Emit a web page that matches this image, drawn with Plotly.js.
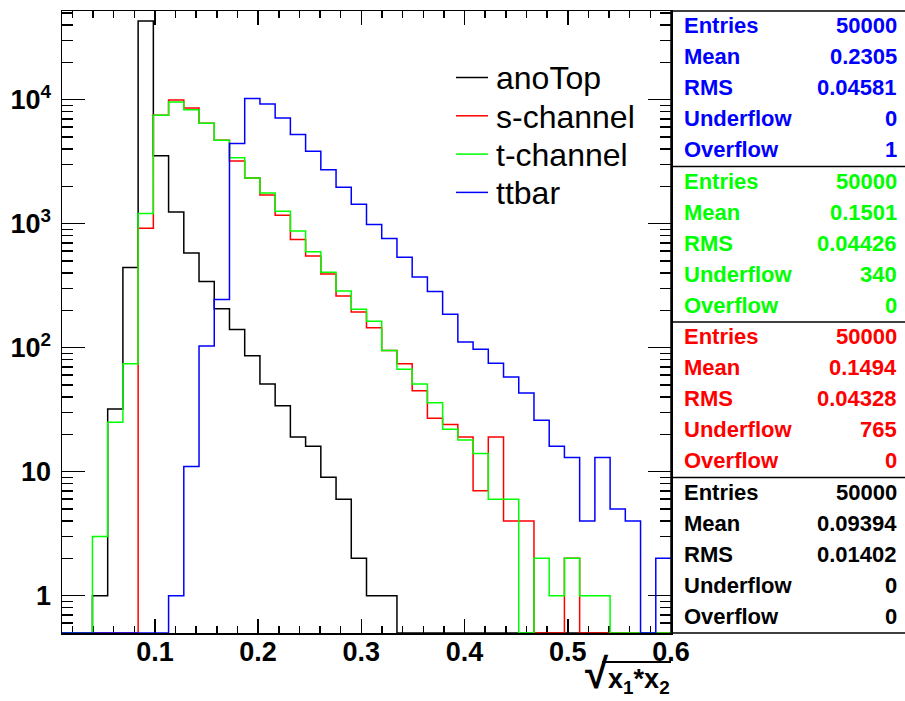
<!DOCTYPE html>
<html>
<head>
<meta charset="utf-8">
<script src="https://cdn.plot.ly/plotly-3.0.1.min.js"></script>
<style>
  html, body { margin: 0; padding: 0; background: #ffffff; }
  #chart { width: 905px; height: 701px; }
</style>
</head>
<body>
<div id="chart"></div>
<script>
// ---- histogram definition ----
const xMin = 0.01;
const xMax = 0.6;
const nBins = 40;

// ---- bin contents ----
const anoTop   = [0,0,1,32,442,43050,3532,1241,580,342,206,140,86,51,34,19,16,9,6,2,1,1,0,0,0,0,0,0,0,0,0,0,0,0,0,0,0,0,0,0];
const sChannel = [0,0,0,0,0,916,7470,9930,8550,6440,4700,3200,2333,1702,1167,743,548,392,261,194,145,95,74,45,27,24,19,7,19,4,4,0,0,2,0,0,0,0,0,0];
const tChannel = [0,0,3,25,74,1205,7470,9570,8300,6440,4700,3405,2333,1766,1257,872,594,405,286,204,163,95,67,51,36,22,18,14,6,6,0,2,1,2,1,1,0,0,0,0];
const ttbar    = [0,0,0,0,0,0,0,1,11,103,244,4420,10190,9220,7110,5220,3830,2725,1963,1432,982,757,535,371,284,186,111,97,75,58,43,26,16,13,4,13,5,4,0,2];

const seriesNames  = ['anoTop', 's-channel', 't-channel', 'ttbar'];
const seriesColors = ['#000000', '#ff0000', '#00ff00', '#0000ff'];

// ---- stats boxes (top to bottom) ----
const statsLabels  = ['Entries', 'Mean', 'RMS', 'Underflow', 'Overflow'];
const statsTtbar   = ['50000', '0.2305', '0.04581', '0', '1'];
const statsTchan   = ['50000', '0.1501', '0.04426', '340', '0'];
const statsSchan   = ['50000', '0.1494', '0.04328', '765', '0'];
const statsAnoTop  = ['50000', '0.09394', '0.01402', '0', '0'];

// ---- axis ticks ----
const yTickVals = [1, 10, 100, 1000, 10000];
const yTickText = ['1', '10', '10<sup>2</sup>', '10<sup>3</sup>', '10<sup>4</sup>'];
const xTickVals = [0.1, 0.2, 0.3, 0.4, 0.5, 0.6];
const xTickText = ['0.1', '0.2', '0.3', '0.4', '0.5', '0.6'];
const xTitle = '<span style="font-size:42px">√</span>x<sub>1</sub>*x<sub>2</sub>';

// ---- geometry ----
const W = 905, H = 701;
const mL = 62, mR = 234, mT = 11, mB = 68;
const pw = W - mL - mR, ph = H - mT - mB;
const yMinVal = 0.5;
const yTopLog = 4.7145;
const FONT = 'Liberation Sans, Arial, Helvetica, sans-serif';

const binW = (xMax - xMin) / nBins;
const edges = [];
for (let i = 0; i <= nBins; i++) edges.push(xMin + i * binW);

function stepTrace(vals, name, color) {
  const y = vals.map(v => (v > 0 ? v : yMinVal));
  y.push(y[y.length - 1]);
  return {
    type: 'scatter', mode: 'lines', x: edges, y: y, name: name,
    line: { shape: 'hv', color: color, width: 1.5 },
    hoverinfo: 'skip', showlegend: false
  };
}

const allSeries = [anoTop, sChannel, tChannel, ttbar];
const traces = allSeries.map((s, i) => stepTrace(s, seriesNames[i], seriesColors[i]));

const px2x = p => (p - mL) / pw;
const py2y = p => 1 - (p - mT) / ph;
const annotations = [];
const shapes = [];

// legend (line sample + name)
seriesNames.forEach((nm, i) => {
  const yc = 77.5 + 38.3 * i;
  shapes.push({ type: 'line', xref: 'paper', yref: 'paper', x0: px2x(456), x1: px2x(488), y0: py2y(yc), y1: py2y(yc),
    line: { color: seriesColors[i], width: 1.5 } });
  annotations.push({ xref: 'paper', yref: 'paper', x: px2x(494), y: py2y(yc + 1), xanchor: 'left', yanchor: 'middle',
    text: nm, showarrow: false, font: { family: FONT, size: 32, color: '#000' } });
});

// stats annotations & box shapes
const statsSets = [statsTtbar, statsTchan, statsSchan, statsAnoTop];
const statsColors = ['#0000ff', '#00ff00', '#ff0000', '#000000'];
const boxL = 1, boxR = px2x(W + 2);
statsSets.forEach((vals, k) => {
  const secTop = k * ph / 4;
  statsLabels.forEach((lab, r) => {
    const yc = mT + secTop + (r + 0.5) * (ph / 4) / 5 - 1;
    annotations.push({ xref: 'paper', yref: 'paper', x: px2x(682), y: py2y(yc), xanchor: 'left', yanchor: 'middle',
      text: lab, showarrow: false, font: { family: FONT, size: 22, weight: 'bold', color: statsColors[k] } });
    annotations.push({ xref: 'paper', yref: 'paper', x: px2x(899), y: py2y(yc), xanchor: 'right', yanchor: 'middle',
      text: vals[r], showarrow: false, font: { family: FONT, size: 22, weight: 'bold', color: statsColors[k] } });
  });
  if (k > 0) shapes.push({ type: 'line', xref: 'paper', yref: 'paper', x0: boxL, x1: boxR, y0: 1 - k / 4, y1: 1 - k / 4, line: { color: '#000', width: 1.5 } });
});
shapes.push({ type: 'rect', xref: 'paper', yref: 'paper', x0: boxL, x1: boxR, y0: 0, y1: 1, line: { color: '#000', width: 1.5 } });

// x-axis title (right aligned under axis end)
annotations.push({ xref: 'paper', yref: 'paper', x: px2x(672), y: py2y(648), xanchor: 'right', yanchor: 'top',
  text: xTitle, showarrow: false, font: { family: FONT, size: 27, weight: 'bold', color: '#000' } });
// overline of the radical
shapes.push({ type: 'line', xref: 'paper', yref: 'paper', x0: px2x(602), x1: 1, y0: py2y(662), y1: py2y(662), line: { color: '#000', width: 2 } });

const layout = {
  width: W, height: H,
  margin: { l: mL, r: mR, t: mT, b: mB, autoexpand: false },
  paper_bgcolor: '#ffffff', plot_bgcolor: '#ffffff',
  showlegend: false,
  xaxis: {
    range: [xMin, xMax], showgrid: false, zeroline: false,
    showline: true, linecolor: '#000', linewidth: 1.5, mirror: 'ticks',
    ticks: 'inside', ticklen: 14, tickwidth: 1.5, tickcolor: '#000',
    tickvals: xTickVals, ticktext: xTickText,
    minor: { dtick: 0.02, tick0: 0, ticks: 'inside', ticklen: 7, tickwidth: 1.5, tickcolor: '#000', showgrid: false },
    tickfont: { family: FONT, size: 27, weight: 'bold', color: '#000' },
    ticklabelstandoff: -6,
    layer: 'below traces'
  },
  yaxis: {
    type: 'log', range: [Math.log10(yMinVal), yTopLog], showgrid: false, zeroline: false,
    showline: true, linecolor: '#000', linewidth: 1.5, mirror: 'ticks',
    ticks: 'inside', ticklen: 23, tickwidth: 1.5, tickcolor: '#000',
    tickvals: yTickVals, ticktext: yTickText,
    minor: { dtick: 'D1', ticks: 'inside', ticklen: 11, tickwidth: 1.5, tickcolor: '#000', showgrid: false },
    tickfont: { family: FONT, size: 27, weight: 'bold', color: '#000' },
    ticklabelstandoff: 4,
    layer: 'below traces'
  },
  annotations: annotations,
  shapes: shapes
};

Plotly.newPlot('chart', traces, layout, { staticPlot: true, displayModeBar: false });
</script>
</body>
</html>
